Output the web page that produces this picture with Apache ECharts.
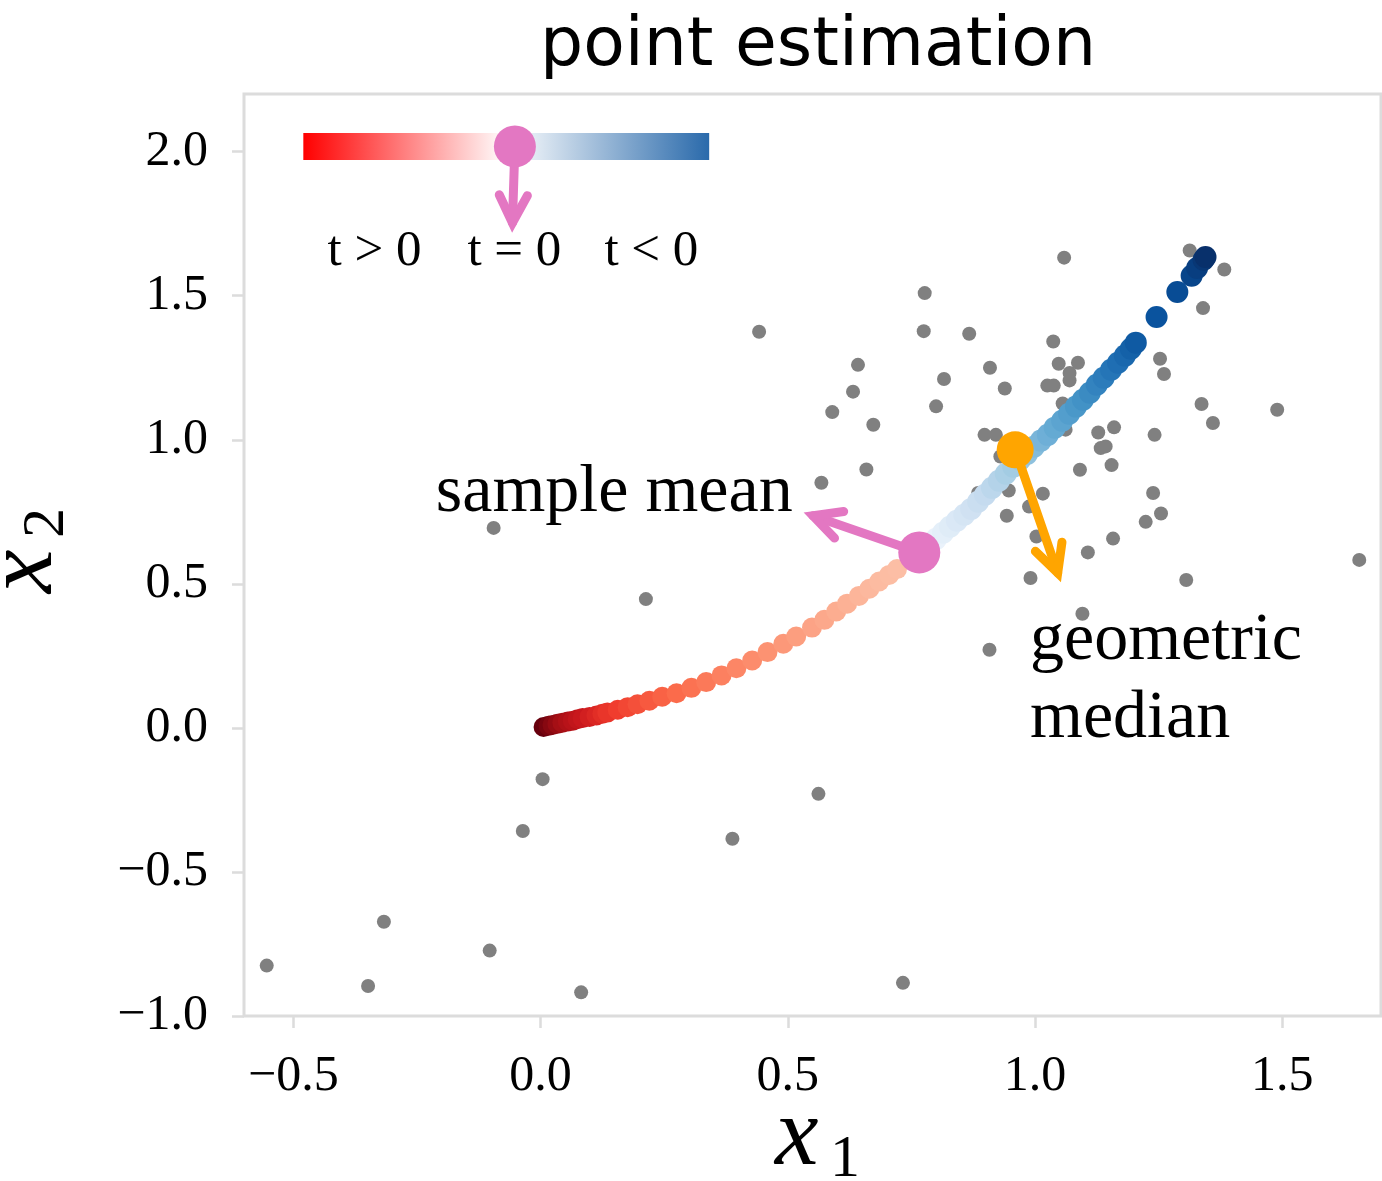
<!DOCTYPE html>
<html>
<head>
<meta charset="utf-8">
<script src="https://cdn.jsdelivr.net/npm/echarts@6/dist/echarts.min.js"></script>
<style>
  html, body { margin: 0; padding: 0; background: #fff; }
  #chart { width: 1382px; height: 1181px; }
</style>
</head>
<body>
<div id="chart"></div>
<script>
// ---- data ----
const xTicks = [-0.5, 0, 0.5, 1, 1.5];
const yTicks = [-1, -0.5, 0, 0.5, 1, 1.5, 2];

// observed samples (grey)
const samplesX = [0.777, 0.775, 0.867, 0.642, 0.909, 0.816, 0.632, 0.939, 0.800, 0.590, 0.673, 0.898, 0.921,
  1.059, 1.313, 1.383, 1.340, 1.037, 1.048, 1.087, 1.070, 1.070, 1.025, 1.038, 1.253, 1.261, 1.056, 1.337,
  1.490, 1.360, 1.160, 1.128, 1.242, 1.062, 1.143, 1.133, 1.091, 1.155, 1.016, 1.239, 1.255, 1.224, 1.003,
  1.158, 1.107, 1.656, 0.991, 1.306, 1.096, 0.659, 0.568, 0.947, 0.885, 0.943, 0.988, 0.908, 0.930, 0.442,
  -0.095, 0.213, 0.004, -0.036, 0.388, 0.562, -0.317, -0.103, -0.554, -0.349, 0.082, 0.733];
const samplesY = [1.509, 1.377, 1.368, 1.260, 1.250, 1.211, 1.167, 1.178, 1.116, 1.096, 1.052, 1.017, 1.017,
  1.632, 1.657, 1.591, 1.457, 1.341, 1.264, 1.267, 1.232, 1.206, 1.188, 1.188, 1.281, 1.228, 1.126, 1.124,
  1.104, 1.058, 1.043, 1.025, 1.017, 1.035, 0.977, 0.971, 0.896, 0.912, 0.813, 0.815, 0.744, 0.715, 0.664,
  0.657, 0.609, 0.583, 0.520, 0.513, 0.396, 0.897, 0.851, 0.824, 0.815, 0.736, 0.768, 0.271, 0.942, 1.375,
  0.694, 0.447, -0.178, -0.358, -0.385, -0.229, -0.673, -0.773, -0.825, -0.896, -0.918, -0.885];

// path for t > 0 (red), from the origin towards the sample mean
const pathPosX = [0.006, 0.016, 0.024, 0.034, 0.044, 0.055, 0.065, 0.075, 0.085, 0.099, 0.113, 0.125, 0.135,
  0.156, 0.176, 0.196, 0.220, 0.246, 0.275, 0.305, 0.335, 0.366, 0.396, 0.428, 0.459, 0.491, 0.517, 0.549,
  0.574, 0.598, 0.620, 0.644, 0.665, 0.685, 0.705, 0.721];
const pathPosY = [0.003, 0.007, 0.010, 0.014, 0.018, 0.022, 0.025, 0.030, 0.034, 0.038, 0.043, 0.049, 0.053,
  0.063, 0.072, 0.082, 0.094, 0.108, 0.120, 0.139, 0.159, 0.182, 0.207, 0.234, 0.263, 0.292, 0.317, 0.348,
  0.375, 0.404, 0.431, 0.458, 0.483, 0.508, 0.531, 0.551];

// path for t < 0 (blue), from the sample mean outwards
const pathNegX = [0.786, 0.800, 0.814, 0.828, 0.842, 0.857, 0.871, 0.885, 0.899, 0.913, 0.927, 0.941, 0.956,
  0.970, 0.984, 0.998, 1.012, 1.026, 1.040, 1.055, 1.069, 1.083, 1.097, 1.111, 1.125, 1.139, 1.154, 1.168,
  1.182, 1.194, 1.204, 1.246, 1.288, 1.317, 1.328, 1.341, 1.345];
const pathNegY = [0.635, 0.656, 0.677, 0.698, 0.719, 0.740, 0.760, 0.785, 0.809, 0.833, 0.858, 0.882, 0.906,
  0.931, 0.951, 0.976, 0.997, 1.017, 1.042, 1.066, 1.090, 1.115, 1.139, 1.163, 1.191, 1.215, 1.243, 1.267,
  1.292, 1.316, 1.337, 1.426, 1.513, 1.569, 1.596, 1.625, 1.634];

const sampleMean = [0.766, 0.609];
const geoMedian = [0.960, 0.965];
const meanArrowTip = [0.551, 0.736];
const medianArrowTip = [1.046, 0.538];

// little colour-bar legend in the upper left
const barFrom = [-0.480, 2.018];
const barTo = [0.341, 2.018];
const legendDot = [-0.052, 2.018];
const legendArrowTip = [-0.057, 1.753];
const legendLabels = ['t > 0', 't = 0', 't < 0'];
const legendLabelX = [-0.336, -0.053, 0.224];
const legendLabelY = 1.653;

// ---- styles ----
const PINK = '#e377c2';
const ORANGE = '#ffa500';
const GREY = '#808080';
const SPINE = '#dcdcdc';
const serif = 'Liberation Serif';

const reds = ['#fff5f0', '#fee0d2', '#fcbba1', '#fc9272', '#fb6a4a', '#ef3b2c', '#cb181d', '#a50f15', '#67000d'];
const blues = ['#f7fbff', '#deebf7', '#c6dbef', '#9ecae1', '#6baed6', '#4292c6', '#2171b5', '#08519c', '#08306b'];

function hexRgb(h) {
  return [parseInt(h.slice(1, 3), 16), parseInt(h.slice(3, 5), 16), parseInt(h.slice(5, 7), 16)];
}
function cmap(stops, v) {
  v = Math.max(0, Math.min(1, v));
  const pos = v * (stops.length - 1);
  const i = Math.min(Math.floor(pos), stops.length - 2);
  const f = pos - i;
  const a = hexRgb(stops[i]), b = hexRgb(stops[i + 1]);
  const c = a.map((x, k) => Math.round(x + (b[k] - x) * f));
  return 'rgb(' + c.join(',') + ')';
}

const fmt = v => (v < 0 ? '\u2212' : '') + Math.abs(v).toFixed(1);

const greyData = samplesX.map((x, i) => [x, samplesY[i]]);
const redData = pathPosX.map((x, i) => {
  const f = i / (pathPosX.length - 1);
  return { value: [x, pathPosY[i]], itemStyle: { color: cmap(reds, 0.24 + 0.76 * Math.pow(1 - f, 1.5)) } };
});
const blueData = pathNegX.map((x, i) => {
  const f = i / (pathNegX.length - 1);
  return { value: [x, pathNegY[i]], itemStyle: { color: cmap(blues, 0.04 + 0.96 * f) } };
});

function arrowParts(p0, p1, color) {
  const ang = Math.atan2(p0[1] - p1[1], p0[0] - p1[0]);
  const len = 31, half = 27 * Math.PI / 180;
  const b1 = [p1[0] + len * Math.cos(ang + half), p1[1] + len * Math.sin(ang + half)];
  const b2 = [p1[0] + len * Math.cos(ang - half), p1[1] + len * Math.sin(ang - half)];
  const st = () => ({ stroke: color, lineWidth: 9, lineCap: 'round', lineJoin: 'miter', fill: null });
  return [
    { type: 'line', shape: { x1: p0[0], y1: p0[1], x2: p1[0], y2: p1[1] }, style: st() },
    { type: 'polyline', shape: { points: [b1, p1, b2] }, style: st() }
  ];
}

const arrowColors = [PINK, ORANGE];

const chart = echarts.init(document.getElementById('chart'));

const option = {
  animation: false,
  backgroundColor: '#fff',
  title: {
    text: 'point estimation',
    left: 813,
    top: 8,
    textAlign: 'center',
    textStyle: { fontFamily: 'DejaVu Sans', fontSize: 68, fontWeight: 'normal', color: '#000' }
  },
  grid: {
    left: 244, top: 94, width: 1137, height: 922,
    show: true, borderColor: SPINE, borderWidth: 3
  },
  xAxis: {
    type: 'value', min: -0.6, max: 1.7,
    axisLine: { show: false, onZero: false },
    splitLine: { show: false },
    axisTick: { show: true, inside: false, customValues: xTicks, length: 12, lineStyle: { color: SPINE, width: 2.5 } },
    axisLabel: { customValues: xTicks, formatter: fmt, fontFamily: serif, fontSize: 50, color: '#000', margin: 36 }
  },
  yAxis: {
    type: 'value', min: -1, max: 2.2,
    axisLine: { show: false, onZero: false },
    splitLine: { show: false },
    axisTick: { show: true, inside: false, customValues: yTicks, length: 12, lineStyle: { color: SPINE, width: 2.5 } },
    axisLabel: { customValues: yTicks, formatter: fmt, fontFamily: serif, fontSize: 50, color: '#000', margin: 36 }
  },
  series: [
    {
      name: 'samples', type: 'scatter', z: 2, symbolSize: 14,
      itemStyle: { color: GREY, opacity: 1 }, data: greyData
    },
    {
      name: 't > 0', type: 'scatter', z: 3, symbolSize: 20,
      itemStyle: { opacity: 1 }, data: redData
    },
    {
      name: 't < 0', type: 'scatter', z: 3, symbolSize: 22,
      itemStyle: { opacity: 1 }, data: blueData
    },
    {
      name: 'arrows', type: 'custom', z: 4,
      encode: { x: [0, 2], y: [1, 3] },
      data: [
        [sampleMean[0], sampleMean[1], meanArrowTip[0], meanArrowTip[1]],
        [geoMedian[0], geoMedian[1], medianArrowTip[0], medianArrowTip[1]]
      ],
      renderItem: function (params, api) {
        const p0 = api.coord([api.value(0), api.value(1)]);
        const p1 = api.coord([api.value(2), api.value(3)]);
        return { type: 'group', children: arrowParts(p0, p1, arrowColors[params.dataIndex]) };
      }
    },
    {
      name: 'geometric median', type: 'scatter', z: 5, symbolSize: 37,
      itemStyle: { color: ORANGE, opacity: 1 }, data: [geoMedian]
    },
    {
      name: 'sample mean', type: 'scatter', z: 6, symbolSize: 42,
      itemStyle: { color: PINK, opacity: 1 }, data: [sampleMean]
    }
  ]
};

chart.setOption(option);

// ---- annotations, placed through the axes ----
const px = p => chart.convertToPixel({ gridIndex: 0 }, p);
const a = px(barFrom), b = px(barTo), dot = px(legendDot), tip = px(legendArrowTip);

const graphics = [
  {
    type: 'rect', z: 10,
    shape: { x: a[0], y: a[1] - 13.5, width: b[0] - a[0], height: 27 },
    style: {
      fill: new echarts.graphic.LinearGradient(0, 0, 1, 0, [
        { offset: 0, color: '#ff0000' },
        { offset: 0.5, color: '#ffffff' },
        { offset: 1, color: '#2a6aab' }
      ])
    }
  },
  { type: 'group', z: 11, children: arrowParts(dot, tip, PINK) },
  { type: 'circle', z: 12, shape: { cx: dot[0], cy: dot[1], r: 21 }, style: { fill: PINK } }
];

legendLabels.forEach((t, i) => {
  const p = px([legendLabelX[i], legendLabelY]);
  graphics.push({
    type: 'text', z: 12, x: p[0], y: p[1],
    style: { text: t, font: '51px "Liberation Serif"', fill: '#000', align: 'center', verticalAlign: 'middle' }
  });
});

const textAt = (str, pos) => {
  const p = px(pos);
  return {
    type: 'text', z: 12, x: p[0], y: p[1],
    style: { text: str, font: '68px "Liberation Serif"', fill: '#000', align: 'left', verticalAlign: 'middle' }
  };
};
graphics.push(textAt('sample mean', [-0.212, 0.815]));
graphics.push(textAt('geometric', [0.990, 0.302]));
graphics.push(textAt('median', [0.990, 0.032]));

// axis titles x_1 and x_2 (math italic with subscript)
function mathLabel(sub) {
  return [
    { type: 'text', x: -40, y: -16, style: { text: 'x', font: 'italic 98px "Liberation Serif"', fill: '#000', align: 'left', verticalAlign: 'middle' } },
    { type: 'text', x: 30, y: 6, style: { text: sub, font: '60px "Liberation Serif"', fill: '#000', align: 'center', verticalAlign: 'middle' } }
  ];
}
graphics.push({ type: 'group', x: 815, y: 1154, children: mathLabel('1') });
graphics.push({ type: 'group', x: 41, y: 553, rotation: Math.PI / 2, children: mathLabel('2') });

chart.setOption({ graphic: graphics });
</script>
</body>
</html>
